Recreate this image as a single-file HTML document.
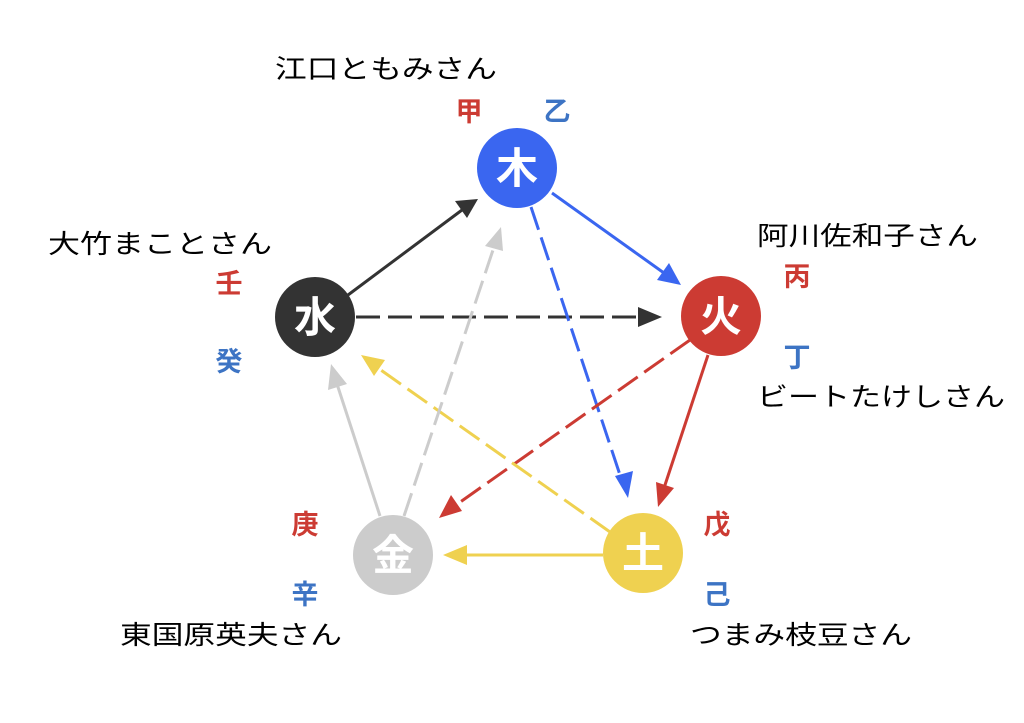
<!DOCTYPE html>
<html><head><meta charset="utf-8"><style>
html,body{margin:0;padding:0;background:#fff;}
svg{display:block}
text{font-family:"Liberation Sans","Noto Sans CJK JP",sans-serif;}
</style></head><body>
<svg width="1024" height="723" viewBox="0 0 1024 723" xmlns="http://www.w3.org/2000/svg">
<g stroke-width="3" fill="none">
<line x1="348" y1="295" x2="462" y2="210" stroke="#333"/>
<line x1="552" y1="193" x2="664" y2="273" stroke="#3a66f0"/>
<line x1="356" y1="317" x2="642" y2="317" stroke="#333" stroke-dasharray="24,8"/>
<line x1="531" y1="207" x2="621" y2="478" stroke="#3a66f0" stroke-dasharray="24,8"/>
<line x1="708" y1="355" x2="664" y2="488" stroke="#cc3b33"/>
<line x1="690" y1="340" x2="456" y2="505" stroke="#cc3b33" stroke-dasharray="24,8"/>
<line x1="603" y1="555" x2="463" y2="555" stroke="#efd150"/>
<line x1="610" y1="532" x2="378" y2="368" stroke="#efd150" stroke-dasharray="24,8"/>
<line x1="380" y1="516" x2="337" y2="384" stroke="#cccccc"/>
<line x1="404" y1="516" x2="494" y2="247" stroke="#cccccc" stroke-dasharray="24,8"/>
</g>
<g>
<polygon points="478,199 455,201 467,218" fill="#333"/>
<polygon points="681,285 657,280 669,263" fill="#3a66f0"/>
<polygon points="662,317 638,307 638,327" fill="#333"/>
<polygon points="628,498 615,476 633,471" fill="#3a66f0"/>
<polygon points="658,507 656,482 674,488" fill="#cc3b33"/>
<polygon points="439,518 451,495 462,511" fill="#cc3b33"/>
<polygon points="443,555 467,545 467,565" fill="#efd150"/>
<polygon points="361,355 385,360 374,376" fill="#efd150"/>
<polygon points="331,364 328,390 347,384" fill="#cccccc"/>
<polygon points="501,227 485,246 503,251" fill="#cccccc"/>
</g>
<circle cx="517" cy="168" r="40" fill="#3a66f0"/>
<circle cx="721" cy="316" r="40" fill="#cc3b33"/>
<circle cx="315" cy="317" r="40" fill="#333"/>
<circle cx="393" cy="555" r="40" fill="#cccccc"/>
<circle cx="643" cy="553" r="40" fill="#efd150"/>
<g fill="#fff" font-size="42" font-weight="bold" text-anchor="middle" style="font-family:'Noto Serif CJK SC','Noto Sans CJK JP',serif">
<text x="517" y="183">木</text>
<text x="721" y="331">火</text>
<text x="315" y="332">水</text>
<text x="393" y="570">金</text>
<text x="643" y="568">土</text>
</g>
<g font-size="27" font-weight="bold" text-anchor="middle">
<text x="469" y="121" fill="#cc3b33">甲</text>
<text x="557" y="121" fill="#3d74c4">乙</text>
<text x="229" y="293" fill="#cc3b33">壬</text>
<text x="229" y="371" fill="#3d74c4">癸</text>
<text x="797" y="286" fill="#cc3b33">丙</text>
<text x="797" y="367" fill="#3d74c4">丁</text>
<text x="305" y="534" fill="#cc3b33">庚</text>
<text x="305" y="604" fill="#3d74c4">辛</text>
<text x="717" y="534" fill="#cc3b33">戊</text>
<text x="717" y="604" fill="#3d74c4">己</text>
</g>
<g font-size="26" fill="#000">
<text x="275" y="78" textLength="222" lengthAdjust="spacingAndGlyphs">江口ともみさん</text>
<text x="48" y="253" textLength="224" lengthAdjust="spacingAndGlyphs">大竹まことさん</text>
<text x="757" y="245" textLength="221" lengthAdjust="spacingAndGlyphs">阿川佐和子さん</text>
<text x="757" y="406" textLength="248" lengthAdjust="spacingAndGlyphs">ビートたけしさん</text>
<text x="120" y="644" textLength="222" lengthAdjust="spacingAndGlyphs">東国原英夫さん</text>
<text x="690" y="644" textLength="222" lengthAdjust="spacingAndGlyphs">つまみ枝豆さん</text>
</g>
</svg>
</body></html>
